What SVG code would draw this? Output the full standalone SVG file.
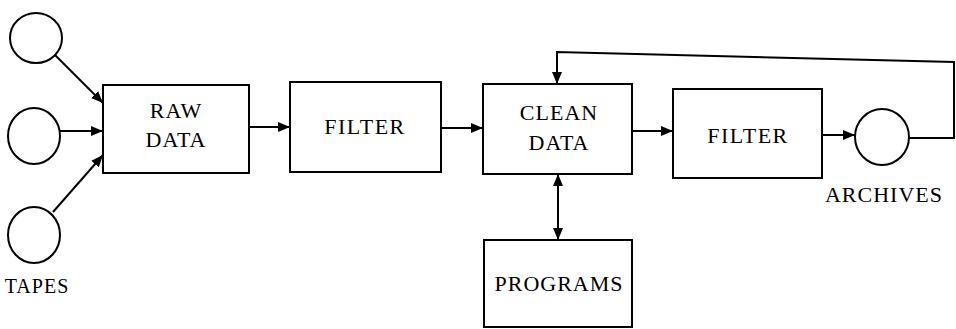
<svg xmlns="http://www.w3.org/2000/svg" width="956" height="329" viewBox="0 0 956 329">
<style>
.n{fill:#fff;stroke:#000;stroke-width:2}
.t{font-family:"Liberation Serif","Times New Roman",serif;font-size:22px;letter-spacing:1px;fill:#000;text-anchor:middle}
.c{fill:none;stroke:#000;stroke-width:2}
</style>
<defs>
<marker id="ah" viewBox="0 0 12 10" refX="12" refY="5" markerWidth="12" markerHeight="10" markerUnits="userSpaceOnUse" orient="auto-start-reverse">
<path d="M0,0 L12,5 L0,10 Z" fill="#000"/>
</marker>
</defs>
<rect width="956" height="329" fill="#fff"/>
<g id="connectors">
<line class="c" x1="52" y1="52" x2="103" y2="103" marker-end="url(#ah)"/>
<line class="c" x1="60" y1="131" x2="103" y2="131" marker-end="url(#ah)"/>
<line class="c" x1="53" y1="212" x2="103" y2="155" marker-end="url(#ah)"/>
<line class="c" x1="249" y1="127" x2="290" y2="127" marker-end="url(#ah)"/>
<line class="c" x1="441" y1="128" x2="483" y2="128" marker-end="url(#ah)"/>
<line class="c" x1="558" y1="174" x2="558" y2="240" marker-start="url(#ah)" marker-end="url(#ah)"/>
<line class="c" x1="632" y1="131" x2="673" y2="131" marker-end="url(#ah)"/>
<line class="c" x1="822" y1="135" x2="855" y2="135" marker-end="url(#ah)"/>
<path class="c" d="M909,138 H954 V62 L557,52 V84" marker-end="url(#ah)"/>
</g>
<g id="tape1"><ellipse class="n" cx="36" cy="38" rx="26" ry="25"/></g>
<g id="tape2"><ellipse class="n" cx="34" cy="136" rx="26" ry="28"/></g>
<g id="tape3"><ellipse class="n" cx="34" cy="235" rx="26" ry="28"/>
<text class="t" x="37" y="293" style="font-size:20px">TAPES</text></g>
<g id="raw"><rect class="n" x="103" y="85" width="146" height="88"/>
<text class="t" x="176" y="118">RAW</text><text class="t" x="176" y="147">DATA</text></g>
<g id="filter1"><rect class="n" x="290" y="82" width="151" height="90"/>
<text class="t" x="365" y="134" style="letter-spacing:1.5px">FILTER</text></g>
<g id="clean"><rect class="n" x="483" y="84" width="149" height="90"/>
<text class="t" x="559" y="120">CLEAN</text><text class="t" x="559" y="150">DATA</text></g>
<g id="programs"><rect class="n" x="484" y="240" width="148" height="87"/>
<text class="t" x="559" y="291">PROGRAMS</text></g>
<g id="filter2"><rect class="n" x="673" y="89" width="149" height="89"/>
<text class="t" x="748" y="143" style="letter-spacing:1.5px">FILTER</text></g>
<g id="archives"><ellipse class="n" cx="882" cy="137" rx="27" ry="28"/>
<text class="t" x="884" y="202">ARCHIVES</text></g>
</svg>
